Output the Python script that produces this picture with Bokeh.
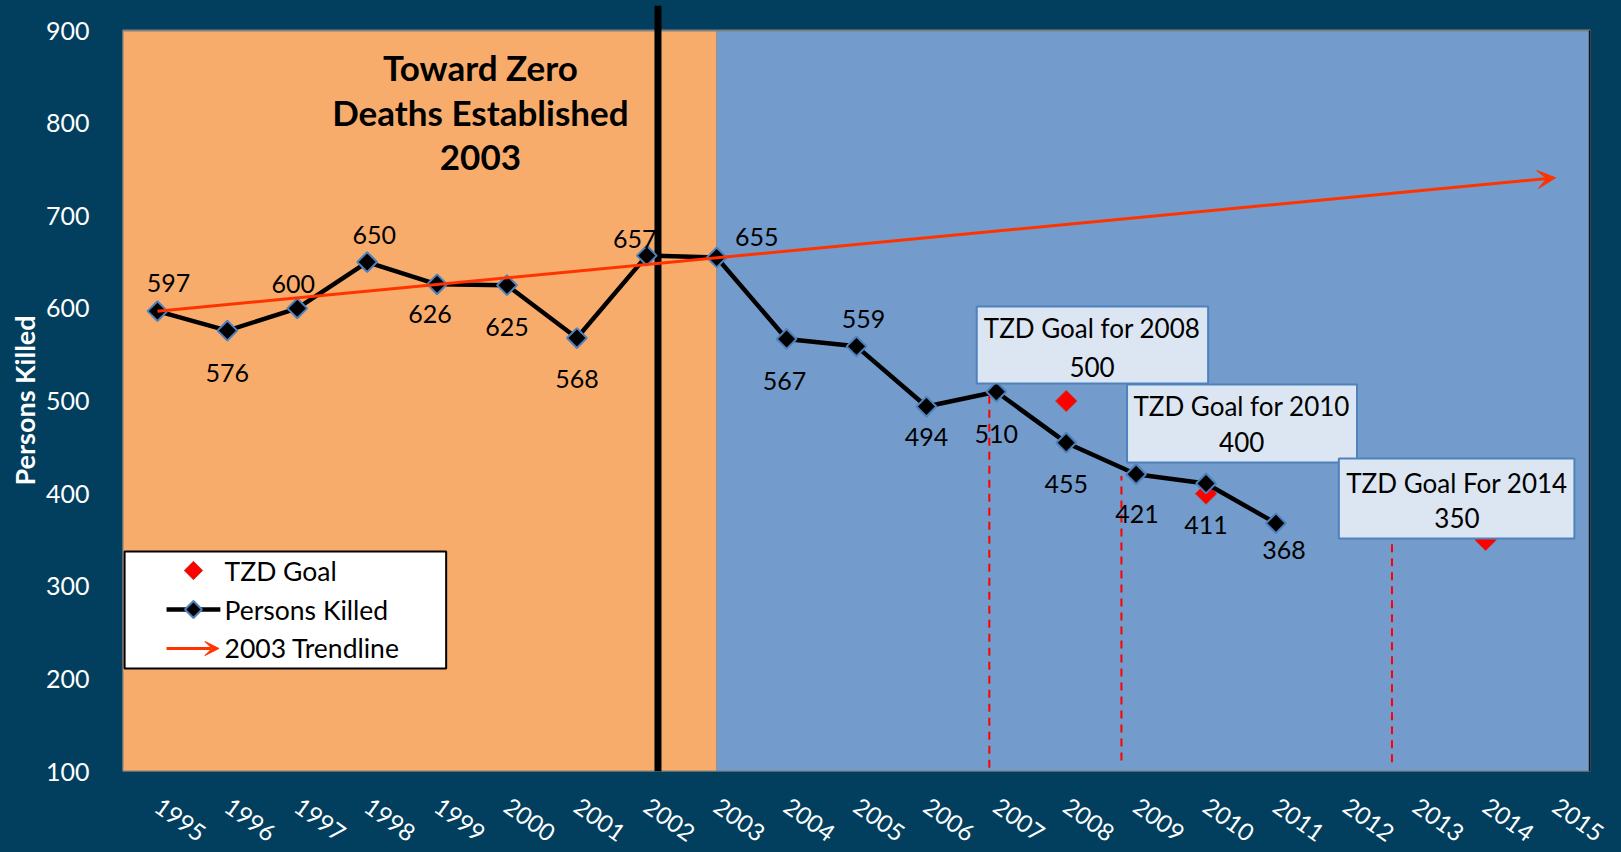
from bokeh.plotting import figure
from bokeh.models import Range1d, FixedTicker, Arrow, VeeHead, ColumnDataSource, Title
from bokeh.core.properties import value
from bokeh.embed import file_html
from bokeh.resources import INLINE
import math

# ---------------- data ----------------
tick_years = [1995, 1996, 1997, 1998, 1999, 2000, 2001, 2002, 2003, 2004, 2005,
              2006, 2007, 2008, 2009, 2010, 2011, 2012, 2013, 2014, 2015]
killed_years = [1995, 1996, 1997, 1998, 1999, 2000, 2001, 2002, 2003, 2004,
                2005, 2006, 2007, 2008, 2009, 2010, 2011]
killed = [597, 576, 600, 650, 626, 625, 568, 657, 655, 567, 559, 494, 510,
          455, 421, 411, 368]
goal_years = [2008, 2010, 2014]
goal_values = [500, 400, 350]
trend_years = [1995, 2015]
trend_values = [597, 741]
y_ticks = [100, 200, 300, 400, 500, 600, 700, 800, 900]
title_lines = ["Toward Zero", "Deaths Established", "2003"]
callout_titles = ["TZD Goal for 2008", "TZD Goal for 2010", "TZD Goal For 2014"]
legend_labels = ["TZD Goal", "Persons Killed", "2003 Trendline"]
y_title = "Persons Killed"
tzd_year = 2003

# ---------------- styles / layout ----------------
NAVY = "#023F5F"
ORANGE = "#F8AC6C"
BLUE = "#739BCB"
TREND = "#FF3300"
FONT = "Lato"

# label offsets (px) for data labels: (dx, dy), dy positive = down
lab_dx = [11, 0, -4, 7, -7, 0, 0, -12, 40, -2, 7, 0, 0, 0, 1, 0, 8]
lab_dy = [-28, 42, -24, -27, 30, 42, 41, -17, -20, 42, -27, 30, 42, 41, 40, 42, 27]

x0, x1 = 1994.5, 2015.5
y_lo, y_hi_plot, y_top = 100, 900, 927.0

p = figure(width=1621, height=852, output_backend="svg", toolbar_location=None,
           x_range=Range1d(x0, x1), y_range=Range1d(y_lo, y_top),
           min_border_left=122, min_border_right=31, min_border_top=5,
           min_border_bottom=81)
p.background_fill_color = NAVY
p.border_fill_color = NAVY
p.styles = {"background-color": NAVY}
p.outline_line_color = None
p.grid.visible = False

# axes
p.xaxis.ticker = FixedTicker(ticks=tick_years)
p.xaxis.major_label_overrides = {y: str(y) for y in tick_years}
p.xaxis.major_label_orientation = -0.62
p.xaxis.major_label_text_color = "white"
p.xaxis.major_label_text_font = FONT
p.xaxis.major_label_text_font_size = "24px"
p.xaxis.major_label_standoff = 26
p.xaxis.axis_line_color = None
p.xaxis.major_tick_line_color = None
p.xaxis.minor_tick_line_color = None

p.yaxis.ticker = FixedTicker(ticks=y_ticks)
p.yaxis.major_label_text_color = "white"
p.yaxis.major_label_text_font = FONT
p.yaxis.major_label_text_font_size = "25px"
p.yaxis.major_label_standoff = 27
p.yaxis.axis_line_color = None
p.yaxis.major_tick_line_color = None
p.yaxis.minor_tick_line_color = None

# y-axis title as a side title (allows shifting along the axis)
p.add_layout(Title(text=y_title, align="left", offset=286, standoff=4,
                   text_color="white", text_font=FONT, text_font_style="bold",
                   text_font_size="27px"), "left")

# plot-area background
p.quad(left=[x0], right=[tzd_year], bottom=[y_lo], top=[y_hi_plot],
       fill_color=ORANGE, line_color=None)
p.quad(left=[tzd_year], right=[x1], bottom=[y_lo], top=[y_hi_plot],
       fill_color=BLUE, line_color=None)
p.quad(left=[x0], right=[x1], bottom=[y_lo], top=[y_hi_plot],
       fill_color=None, line_color="#808080", line_width=2)
p.segment(x0=[x1 - 0.01], y0=[y_lo], x1=[x1 - 0.01], y1=[y_hi_plot],
          line_color="#111111", line_width=2)

# black establishment line
p.segment(x0=[2002.16], y0=[y_lo], x1=[2002.16], y1=[y_top],
          line_color="black", line_width=7)

# title text
p.text(x=[1999.62] * 3, y=[860.2, 811.5, 762.5], text=title_lines,
       text_font=value(FONT), text_font_style="bold", text_font_size="35px",
       text_align="center", text_baseline="middle", text_color="black")

# red dashed leaders
p.segment(x0=[2006.9, 2008.79, 2012.66], y0=[104, 112, 110],
          x1=[2006.9, 2008.79, 2012.66], y1=[508, 419, 346],
          line_color="#FF0000", line_width=2, line_dash="8 6")

# trendline arrow
p.add_layout(Arrow(x_start=trend_years[0], y_start=trend_values[0],
                   x_end=trend_years[1], y_end=trend_values[1],
                   line_color=TREND, line_width=3,
                   end=VeeHead(size=18, fill_color=TREND, line_color=TREND)))

# goal markers
p.scatter(goal_years, goal_values, marker="square", size=15, angle=math.pi / 4,
          fill_color="#FF0000", line_color="#C0392B", line_width=1)

# persons killed
src = ColumnDataSource(dict(x=killed_years, y=killed,
                            t=[str(v) for v in killed], dx=lab_dx, dy=lab_dy))
p.line("x", "y", source=src, line_color="black", line_width=4.5)
p.scatter("x", "y", source=src, marker="square", size=14, angle=math.pi / 4,
          fill_color="black", line_color="#4F81BD", line_width=2)
p.text("x", "y", text="t", source=src, x_offset="dx", y_offset="dy",
       text_font=value(FONT), text_font_size="25px", text_align="center",
       text_baseline="middle", text_color="black")

# callout boxes
cb_left = [2006.72, 2008.87, 2011.90]
cb_right = [2010.03, 2012.16, 2015.27]
cb_top = [602.0, 517.8, 437.9]
cb_bottom = [518.9, 433.6, 351.6]
cb_cx = [2008.37, 2010.51, 2013.59]
cb_y1 = [578.3, 495.1, 412.0]
cb_y2 = [537.2, 455.2, 374.2]
for i in range(3):
    p.quad(left=[cb_left[i]], right=[cb_right[i]], bottom=[cb_bottom[i]],
           top=[cb_top[i]], fill_color="#DCE6F2", line_color="#4F81BD",
           line_width=2)
    p.text(x=[cb_cx[i]], y=[cb_y1[i]], text=[callout_titles[i]],
           text_font=value(FONT), text_font_size="26px", text_align="center",
           text_baseline="middle", text_color="black")
    p.text(x=[cb_cx[i]], y=[cb_y2[i]], text=[str(goal_values[i])],
           text_font=value(FONT), text_font_size="26px", text_align="center",
           text_baseline="middle", text_color="black")

# manual legend
lg_rows = [317.0, 274.9, 232.8]
p.quad(left=[1994.53], right=[1999.13], bottom=[211.2], top=[337.5],
       fill_color="white", line_color="black", line_width=2)
p.scatter([1995.515], [lg_rows[0]], marker="square", size=13, angle=math.pi / 4,
          fill_color="#FF0000", line_color="#C0392B", line_width=1)
p.segment(x0=[1995.13], y0=[lg_rows[1]], x1=[1995.90], y1=[lg_rows[1]],
          line_color="black", line_width=4.5)
p.scatter([1995.515], [lg_rows[1]], marker="square", size=12, angle=math.pi / 4,
          fill_color="black", line_color="#4F81BD", line_width=2)
p.add_layout(Arrow(x_start=1995.13, y_start=lg_rows[2], x_end=1995.88,
                   y_end=lg_rows[2], line_color=TREND, line_width=3,
                   end=VeeHead(size=14, fill_color=TREND, line_color=TREND)))
p.text(x=[1995.96] * 3, y=lg_rows, text=legend_labels, text_font=value(FONT),
       text_font_size="26.5px", text_align="left", text_baseline="middle",
       text_color="black")

open("out.html", "w").write(file_html(p, INLINE))
